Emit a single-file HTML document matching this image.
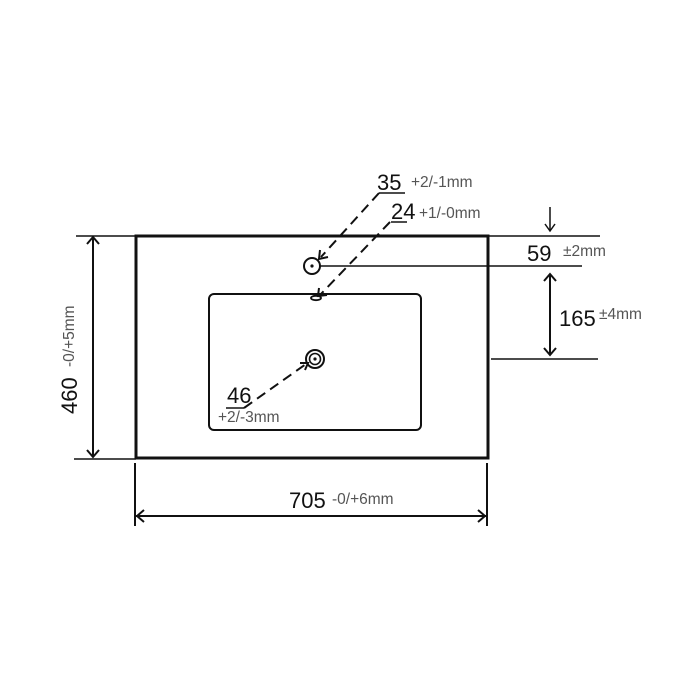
<!DOCTYPE html>
<html><head><style>html,body{margin:0;padding:0;background:#fff}svg{display:block}</style></head>
<body>
<svg width="700" height="700" viewBox="0 0 700 700" xmlns="http://www.w3.org/2000/svg" font-family="Liberation Sans, sans-serif">
<g fill="none" stroke="#111">
<rect x="136" y="236" width="352" height="222" stroke-width="3"/>
<rect x="209" y="294" width="212" height="136" rx="5" stroke-width="2"/>
<line x1="76" y1="236" x2="136" y2="236" stroke-width="1.5"/>
<line x1="74" y1="459" x2="136" y2="459" stroke-width="1.5"/>
<line x1="93" y1="237" x2="93" y2="457" stroke-width="2"/>
<polyline points="87,244 93,237 99,244" stroke-width="2"/>
<polyline points="87,450 93,457 99,450" stroke-width="2"/>
<line x1="135" y1="463" x2="135" y2="526" stroke-width="2"/>
<line x1="487" y1="463" x2="487" y2="526" stroke-width="2"/>
<line x1="136" y1="516" x2="486" y2="516" stroke-width="2"/>
<polyline points="144,510 137,516 144,522" stroke-width="2"/>
<polyline points="478,510 485,516 478,522" stroke-width="2"/>
<line x1="488" y1="236" x2="600" y2="236" stroke-width="1.5"/>
<line x1="320" y1="266" x2="582" y2="266" stroke-width="1.5"/>
<line x1="491" y1="359" x2="598" y2="359" stroke-width="1.5"/>
<line x1="550" y1="207" x2="550" y2="231" stroke-width="1.5"/>
<polyline points="545,224 550,231 555,224" stroke-width="1.5"/>
<line x1="550" y1="274" x2="550" y2="355" stroke-width="2"/>
<polyline points="544,281 550,274 556,281" stroke-width="2"/>
<polyline points="544,348 550,355 556,348" stroke-width="2"/>
<circle cx="312" cy="266" r="8" stroke-width="2"/>
<ellipse cx="316" cy="298" rx="5" ry="2.2" stroke-width="1.8"/>
<circle cx="315" cy="359" r="9" stroke-width="2"/>
<circle cx="315" cy="359" r="5.5" stroke-width="1.6"/>
<line x1="379" y1="193" x2="405" y2="193" stroke-width="1.5"/>
<line x1="379" y1="193" x2="321" y2="257" stroke-width="2" stroke-dasharray="10,6"/>
<polyline points="320,250 319,259 328,257" stroke-width="2"/>
<line x1="391" y1="222" x2="407" y2="222" stroke-width="1.5"/>
<line x1="390" y1="222" x2="320" y2="295" stroke-width="2" stroke-dasharray="10,6"/>
<polyline points="319,288 318,296 327,295" stroke-width="2"/>
<line x1="226" y1="408" x2="244" y2="408" stroke-width="1.5"/>
<line x1="244" y1="408" x2="306" y2="364" stroke-width="2" stroke-dasharray="10,6"/>
<polyline points="300,363 308,363 305,370" stroke-width="2"/>
</g>
<g fill="#111">
<circle cx="312" cy="266" r="1.6"/><circle cx="315" cy="359" r="1.6"/>
<text x="377" y="190" font-size="22">35</text>
<text x="411" y="187" font-size="15.5" fill="#555">+2/-1mm</text>
<text x="391" y="219" font-size="22">24</text>
<text x="419" y="218" font-size="15.5" fill="#555">+1/-0mm</text>
<text x="527" y="261" font-size="22">59</text>
<text x="563" y="256" font-size="15.5" fill="#555">±2mm</text>
<text x="559" y="326" font-size="22">165</text>
<text x="599" y="319" font-size="15.5" fill="#555">±4mm</text>
<text x="227" y="403" font-size="22">46</text>
<text x="218" y="422" font-size="15.5" fill="#555">+2/-3mm</text>
<text x="289" y="508" font-size="22">705</text>
<text x="332" y="504" font-size="15.5" fill="#555">-0/+6mm</text>
<g transform="translate(77,414) rotate(-90)">
<text x="0" y="0" font-size="22">460</text>
<text x="47" y="-3" font-size="15.5" fill="#555">-0/+5mm</text>
</g>
</g>
</svg>
</body></html>
